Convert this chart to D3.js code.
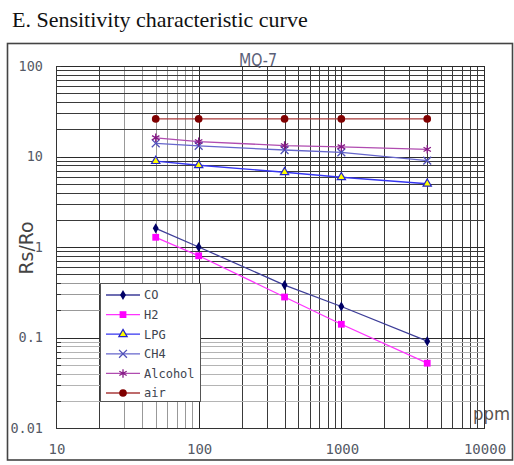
<!DOCTYPE html>
<html>
<head>
<meta charset="utf-8">
<script src="https://cdn.jsdelivr.net/npm/d3@7"></script>
<style>
  html, body { margin: 0; padding: 0; background: #fff; }
  svg { display: block; }
</style>
</head>
<body>
<svg id="chart" width="514" height="465"></svg>
<script>
// Gas concentrations (ppm) at which each curve was measured
const ppm = [50, 100, 400, 1000, 4000];

// Rs/Ro readings per gas
const coValues      = [1.61, 1.0, 0.38, 0.22, 0.091];
const h2Values      = [1.28, 0.80, 0.28, 0.14, 0.052];
const lpgValues     = [8.9, 8.0, 6.7, 5.9, 5.0];
const ch4Values     = [14.0, 13.1, 11.8, 11.1, 9.0];
const alcoholValues = [16.1, 14.6, 13.2, 12.8, 12.0];
const airValues     = [26, 26, 26, 26, 26];

const seriesNames = ["CO", "H2", "LPG", "CH4", "Alcohol", "air"];

// Axis tick labels
const xTickValues = [10, 100, 1000, 10000];
const xTickLabels = ["10", "100", "1000", "10000"];
const yTickValues = [100, 10, 1, 0.1, 0.01];
const yTickLabels = ["100", "10", "1", "0.1", "0.01"];

const titleText = "E. Sensitivity characteristic curve";
const chartName = "MQ-7";
const yAxisName = "Rs/Ro";
const xAxisName = "ppm";

// Styling per series
const styles = {
  CO:      { line: "#3d3d98", symbol: d3.symbolDiamond,  size: 30, fill: "#000066", stroke: "none" },
  H2:      { line: "#ff33ff", symbol: d3.symbolSquare,   size: 46, fill: "#ff00ff", stroke: "none" },
  LPG:     { line: "#3535f0", symbol: d3.symbolTriangle, size: 30, fill: "#ffff00", stroke: "#2424c8" },
  CH4:     { line: "#6666cc", symbol: d3.symbolTimes,    size: 42, fill: "none",    stroke: "#5050b8" },
  Alcohol: { line: "#b04cb0", symbol: d3.symbolAsterisk, size: 50, fill: "none",    stroke: "#861a86" },
  air:     { line: "#a83a3a", symbol: d3.symbolCircle,   size: 46, fill: "#800000", stroke: "none" }
};

const valuesByName = {
  CO: coValues, H2: h2Values, LPG: lpgValues,
  CH4: ch4Values, Alcohol: alcoholValues, air: airValues
};

const svg = d3.select("#chart");

svg.append("rect").attr("width", 514).attr("height", 465).attr("fill", "#fff");

// Title
svg.append("text")
  .attr("x", 12).attr("y", 26.5)
  .attr("font-family", "'Liberation Serif', 'Times New Roman', serif")
  .attr("font-size", 22)
  .attr("fill", "#111")
  .text(titleText);

// Outer frame
svg.append("rect")
  .attr("x", 7.5).attr("y", 43.5)
  .attr("width", 505).attr("height", 416.5)
  .attr("fill", "none")
  .attr("stroke", "#444")
  .attr("stroke-width", 1.6);

const x = d3.scaleLog().domain([10, 10000]).range([56, 484]);
const y = d3.scaleLog().domain([0.01, 100]).range([428, 66]);

const isMajor = v => Math.abs(Math.log10(v) - Math.round(Math.log10(v))) < 1e-9;

const grid = svg.append("g").attr("shape-rendering", "crispEdges");

// Vertical grid lines
const xGrid = x.ticks();
grid.selectAll("line.vx").data(xGrid).join("line")
  .attr("class", "vx")
  .attr("x1", d => Math.round(x(d)) + 0.5).attr("x2", d => Math.round(x(d)) + 0.5)
  .attr("y1", y(100)).attr("y2", y(0.01))
  .attr("stroke", d => isMajor(d) ? "#2a2a2a" : (d < 100 && d > 20 ? "#999" : "#3a3a3a"))
  .attr("stroke-width", 1);

// Horizontal grid lines
const yGrid = y.ticks();
grid.selectAll("line.hy").data(yGrid).join("line")
  .attr("class", "hy")
  .attr("y1", d => Math.round(y(d)) + 0.5).attr("y2", d => Math.round(y(d)) + 0.5)
  .attr("x1", x(10)).attr("x2", x(10000))
  .attr("stroke", d => isMajor(d) ? "#2a2a2a" : (d < 0.1 ? "#b4b4b4" : (d < 0.5 && d > 0.1 ? "#999" : "#3a3a3a")))
  .attr("stroke-width", 1);

// Small inward ticks on the left axis
grid.selectAll("line.ty").data(yGrid).join("line")
  .attr("class", "ty")
  .attr("y1", d => Math.round(y(d)) + 0.5).attr("y2", d => Math.round(y(d)) + 0.5)
  .attr("x1", x(10)).attr("x2", x(10) + 5)
  .attr("stroke", "#333");

// Plot frame: left and bottom axis lines
grid.append("line")
  .attr("x1", 56.5).attr("x2", 56.5).attr("y1", y(100)).attr("y2", y(0.01) + 0.5)
  .attr("stroke", "#333");
grid.append("line")
  .attr("x1", 56).attr("x2", 484.5).attr("y1", Math.round(y(0.01)) + 0.5).attr("y2", Math.round(y(0.01)) + 0.5)
  .attr("stroke", "#333").attr("stroke-width", 1.5);

// Tick labels
const tickFont = "'DejaVu Sans Mono', monospace";
const tickColor = "#555a66";
svg.append("g").selectAll("text").data(yTickValues).join("text")
  .attr("x", 43).attr("y", d => y(d))
  .attr("dy", "0.36em")
  .attr("text-anchor", "end")
  .attr("font-family", tickFont)
  .attr("font-size", 13.5)
  .attr("fill", tickColor)
  .text((d, i) => yTickLabels[i]);

svg.append("g").selectAll("text").data(xTickValues).join("text")
  .attr("x", d => x(d) + 1).attr("y", 453.5)
  .attr("text-anchor", "middle")
  .attr("font-family", tickFont)
  .attr("font-size", 14)
  .attr("fill", tickColor)
  .text((d, i) => xTickLabels[i]);

// Chart name above plot
svg.append("text")
  .attr("x", 258).attr("y", 66)
  .attr("text-anchor", "middle")
  .attr("font-family", "'DejaVu Sans', sans-serif")
  .attr("font-size", 17)
  .attr("textLength", 38).attr("lengthAdjust", "spacingAndGlyphs")
  .attr("fill", "#5a6078")
  .text(chartName);

// Axis names
svg.append("text")
  .attr("transform", "translate(33,248) rotate(-90)")
  .attr("text-anchor", "middle")
  .attr("font-family", "'DejaVu Sans', sans-serif")
  .attr("font-size", 19)
  .attr("textLength", 53).attr("lengthAdjust", "spacingAndGlyphs")
  .attr("fill", "#444")
  .text(yAxisName);

svg.append("text")
  .attr("x", 473).attr("y", 420)
  .attr("font-family", "'DejaVu Sans', sans-serif")
  .attr("font-size", 18)
  .attr("textLength", 37).attr("lengthAdjust", "spacingAndGlyphs")
  .attr("fill", "#5a5550")
  .text(xAxisName);

// Series lines and markers
const lineGen = d3.line().x(d => x(d[0])).y(d => y(d[1]));
const plot = svg.append("g");

seriesNames.forEach(name => {
  const st = styles[name];
  const pts = ppm.map((p, i) => [p, valuesByName[name][i]]);
  plot.append("path")
    .datum(pts)
    .attr("d", lineGen)
    .attr("fill", "none")
    .attr("stroke", st.line)
    .attr("stroke-width", 1.3);
});

function drawMarker(g, name, cx, cy) {
  const st = styles[name];
  const isStroke = name === "CH4" || name === "Alcohol";
  g.append("path")
    .attr("transform", `translate(${cx},${cy})`)
    .attr("d", d3.symbol().type(st.symbol).size(st.size)())
    .attr("fill", st.fill)
    .attr("stroke", st.stroke)
    .attr("stroke-width", isStroke ? 1.3 : 1.2);
}

seriesNames.forEach(name => {
  ppm.forEach((p, i) => drawMarker(plot, name, x(p), y(valuesByName[name][i])));
});

// Legend
const legend = svg.append("g");
legend.append("rect")
  .attr("x", 100.5).attr("y", 283.5)
  .attr("width", 100).attr("height", 118)
  .attr("fill", "#fff")
  .attr("stroke", "#555")
  .attr("stroke-width", 1);

seriesNames.forEach((name, i) => {
  const ly = 295 + i * 19.6;
  const st = styles[name];
  legend.append("line")
    .attr("x1", 106).attr("x2", 140).attr("y1", ly).attr("y2", ly)
    .attr("stroke", st.line).attr("stroke-width", 1.3);
  drawMarker(legend, name, 123, ly);
  legend.append("text")
    .attr("x", 144).attr("y", ly).attr("dy", "0.36em")
    .attr("font-family", tickFont)
    .attr("font-size", 12)
    .attr("fill", "#40444f")
    .text(name);
});
</script>
</body>
</html>
